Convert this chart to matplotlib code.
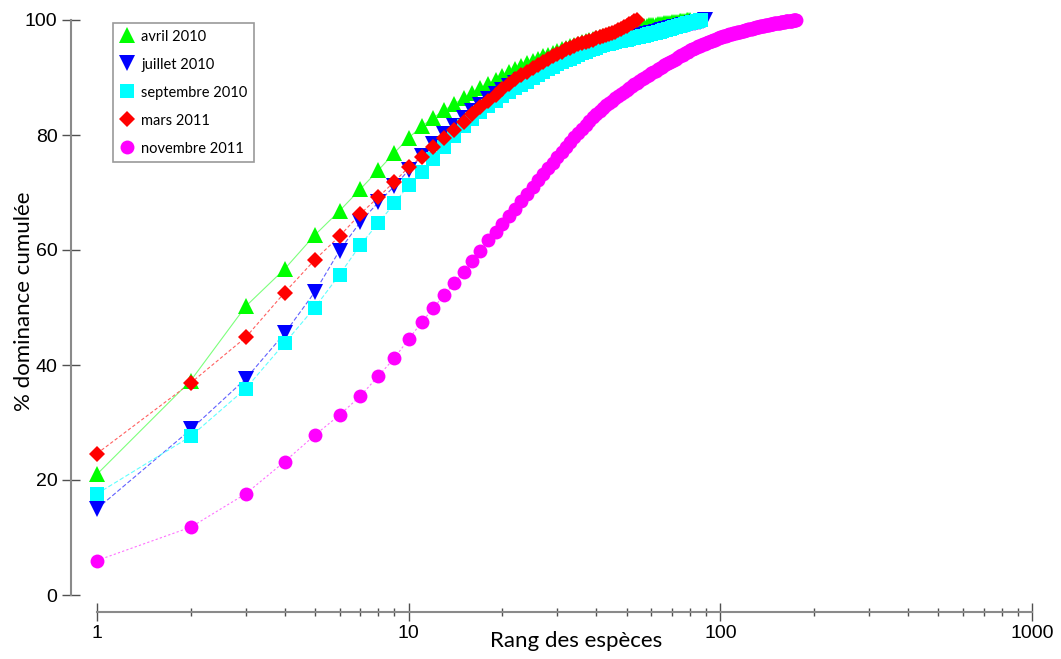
import numpy as np
import matplotlib
matplotlib.use("Agg")
import matplotlib.pyplot as plt

# cumulative dominance (%) by species rank, one list per sampling date
avril_2010 = [21.0, 37.3, 50.2, 56.7, 62.6, 66.8, 70.6, 73.9, 76.9, 79.5,
              81.5, 83.0, 84.3, 85.4, 86.4, 87.3, 88.1, 88.9, 89.6, 90.3,
              90.9, 91.5, 92.0, 92.5, 92.9, 93.3, 93.7, 94.0, 94.3, 94.6,
              94.9, 95.2, 95.4, 95.7, 95.9, 96.1, 96.3, 96.5, 96.7, 96.9,
              97.0, 97.2, 97.3, 97.5, 97.6, 97.7, 97.8, 98.0, 98.1, 98.2,
              98.3, 98.4, 98.5, 98.6, 98.7, 98.8, 98.9, 99.0, 99.05, 99.1,
              99.15, 99.2, 99.25, 99.3, 99.35, 99.4, 99.45, 99.5, 99.55, 99.6,
              99.64, 99.68, 99.72, 99.76, 99.8, 99.84, 99.88, 99.92, 99.96, 100.0]

juillet_2010 = [15.0, 28.8, 37.6, 45.5, 52.7, 59.9, 64.9, 68.3, 71.1, 73.9,
                76.3, 78.4, 80.1, 81.6, 83.0, 84.2, 85.3, 86.3, 87.1, 87.8,
                88.5, 89.1, 89.6, 90.1, 90.6, 91.1, 91.5, 91.9, 92.3, 92.7,
                93.0, 93.3, 93.6, 93.9, 94.2, 94.5, 94.7, 94.9, 95.1, 95.3,
                95.5, 95.7, 95.8, 96.0, 96.1, 96.2, 96.4, 96.5, 96.6, 96.7,
                96.8, 96.9, 97.0, 97.1, 97.2, 97.3, 97.4, 97.5, 97.6, 97.7,
                97.8, 97.9, 98.0, 98.1, 98.2, 98.3, 98.4, 98.5, 98.6, 98.65,
                98.7, 98.8, 98.85, 98.9, 99.0, 99.05, 99.1, 99.2, 99.25, 99.3,
                99.4, 99.45, 99.5, 99.6, 99.65, 99.7, 99.8, 99.9, 100.0]

septembre_2010 = [17.6, 27.6, 35.9, 43.8, 50.0, 55.7, 60.9, 64.7, 68.1, 71.3,
                  73.6, 75.9, 78.0, 79.9, 81.5, 82.8, 84.0, 85.0, 85.9, 86.7,
                  87.4, 88.1, 88.7, 89.3, 89.9, 90.4, 90.9, 91.4, 91.9, 92.3,
                  92.7, 93.0, 93.3, 93.6, 93.9, 94.2, 94.5, 94.7, 94.9, 95.2,
                  95.4, 95.6, 95.8, 95.9, 96.0, 96.2, 96.3, 96.4, 96.5, 96.6,
                  96.7, 96.8, 96.9, 97.0, 97.1, 97.2, 97.3, 97.4, 97.5, 97.6,
                  97.7, 97.8, 97.9, 98.0, 98.1, 98.2, 98.3, 98.4, 98.5, 98.6,
                  98.7, 98.8, 98.9, 99.0, 99.1, 99.2, 99.3, 99.4, 99.5, 99.55,
                  99.6, 99.65, 99.7, 99.75, 99.85, 99.95, 100.0]

mars_2011 = [24.6, 36.9, 44.8, 52.6, 58.3, 62.4, 66.3, 69.2, 71.9, 74.4,
             76.2, 77.9, 79.4, 80.9, 82.3, 83.6, 84.8, 85.9, 87.0, 88.0,
             88.9, 89.7, 90.4, 91.0, 91.6, 92.2, 92.7, 93.2, 93.7, 94.1,
             94.5, 94.9, 95.2, 95.5, 95.8, 96.0, 96.2, 96.4, 96.6, 96.8,
             97.0, 97.2, 97.4, 97.6, 97.8, 98.0, 98.2, 98.4, 98.7, 99.0,
             99.3, 99.5, 99.8, 100.0]

novembre_2011 = [6.0, 11.8, 17.6, 23.2, 27.8, 31.3, 34.6, 38.1, 41.2, 44.5,
                 47.4, 49.9, 52.2, 54.2, 56.2, 58.1, 59.9, 61.7, 63.1, 64.5,
                 65.9, 67.2, 68.5, 69.8, 71.0, 72.1, 73.2, 74.2, 75.2, 76.2,
                 77.1, 77.9, 78.8, 79.6, 80.4, 81.1, 81.8, 82.5, 83.1, 83.7,
                 84.2, 84.7, 85.2, 85.6, 86.0, 86.4, 86.8, 87.2, 87.5, 87.9,
                 88.2, 88.5, 88.8, 89.1, 89.4, 89.7, 90.0, 90.2, 90.5, 90.8,
                 91.0, 91.2, 91.5, 91.7, 91.9, 92.1, 92.3, 92.5, 92.7, 92.9,
                 93.1, 93.3, 93.5, 93.7, 93.9, 94.0, 94.2, 94.4, 94.5, 94.7,
                 94.9, 95.0, 95.1, 95.3, 95.4, 95.5, 95.7, 95.8, 95.9, 96.0,
                 96.1, 96.2, 96.3, 96.4, 96.5, 96.6, 96.7, 96.8, 96.9, 97.0,
                 97.1, 97.2, 97.25, 97.3, 97.4, 97.45, 97.5, 97.6, 97.65, 97.7,
                 97.75, 97.8, 97.85, 97.9, 97.95, 98.0, 98.05, 98.1, 98.15, 98.2,
                 98.25, 98.3, 98.35, 98.4, 98.45, 98.5, 98.55, 98.6, 98.65, 98.7,
                 98.75, 98.8, 98.85, 98.9, 98.93, 98.96, 99.0, 99.03, 99.06, 99.1,
                 99.13, 99.16, 99.2, 99.23, 99.26, 99.3, 99.33, 99.36, 99.4, 99.42,
                 99.44, 99.46, 99.5, 99.52, 99.55, 99.58, 99.6, 99.63, 99.66, 99.7,
                 99.72, 99.74, 99.76, 99.78, 99.8, 99.82, 99.84, 99.86, 99.88, 99.9,
                 99.92, 99.94, 99.96, 99.98, 100.0]

labels = ["avril 2010", "juillet 2010", "septembre 2010", "mars 2011", "novembre 2011"]
series = [avril_2010, juillet_2010, septembre_2010, mars_2011, novembre_2011]

# marker, marker size, marker colour, line colour, line style
styles = [
    ("^", 12, "#00ff00", "#7cff7c", "-"),
    ("v", 12, "#0000ff", "#6060ff", (0, (4, 2))),
    ("s", 10.5, "#00ffff", "#60ffff", (0, (4, 2))),
    ("D", 8.5, "#ff0000", "#ff6060", (0, (3, 2))),
    ("o", 10, "#ff00ff", "#ff70ff", (0, (2, 2))),
]

fig = plt.figure(figsize=(10.61, 6.59), dpi=100)
W, H = 1061, 659
ax = fig.add_axes([97 / W, (H - 595) / H, (1032 - 97) / W, (595 - 20) / H])

for vals, lab, (mk, ms, mc, lc, ls) in zip(series, labels, styles):
    ranks = np.arange(1, len(vals) + 1)
    ax.plot(ranks, vals, color=lc, lw=0.8, ls=ls, zorder=2, clip_on=False)
    ax.plot(ranks, vals, ls="none", marker=mk, ms=ms, color=mc, mec=mc,
            mew=0, label=lab, zorder=3, clip_on=False)

ax.set_xscale("log")
ax.set_xlim(1, 1000)
ax.set_ylim(0, 100)
ax.set_yticks([0, 20, 40, 60, 80, 100])
ax.set_xticks([1, 10, 100, 1000])
ax.set_xticklabels(["1", "10", "100", "1000"])

for s in ["top", "right"]:
    ax.spines[s].set_visible(False)
ax.spines["left"].set_position(("outward", 19))
ax.spines["bottom"].set_position(("outward", 12))
for s in ["left", "bottom"]:
    ax.spines[s].set_color("#8a8a8a")
    ax.spines[s].set_linewidth(1.5)

tickfont = "Liberation Sans"
ax.tick_params(axis="both", which="major", direction="inout", length=13,
               width=1.0, color="#505050", labelsize=14, pad=3)
ax.tick_params(axis="x", which="minor", direction="inout", length=6,
               width=1.0, color="#505050")
for t in ax.get_xticklabels() + ax.get_yticklabels():
    t.set_fontfamily(tickfont)

ax.set_xlabel("Rang des espèces", fontfamily="Lato", fontsize=16)
ax.set_ylabel("% dominance cumulée", fontfamily="Lato", fontsize=16)
# label positions in axes fraction (axes spans x 97..1032 px, y 20..595 px)
ax.xaxis.set_label_coords((576 - 97) / 935, (595 - 631) / 575)
ax.yaxis.set_label_coords((34 - 97) / 935, (595 - 301) / 575)

leg = ax.legend(loc="upper left", bbox_to_anchor=(16 / 935, 1 - 3 / 575),
                borderaxespad=0, frameon=True, fancybox=False,
                prop={"family": "Lato", "size": 10.5},
                handletextpad=0.5, labelspacing=0.96, borderpad=0.45,
                handlelength=1.0, markerscale=1.0)
leg.get_frame().set_edgecolor("#808080")
leg.get_frame().set_linewidth(1.2)

fig.savefig("out.png", dpi=100)
